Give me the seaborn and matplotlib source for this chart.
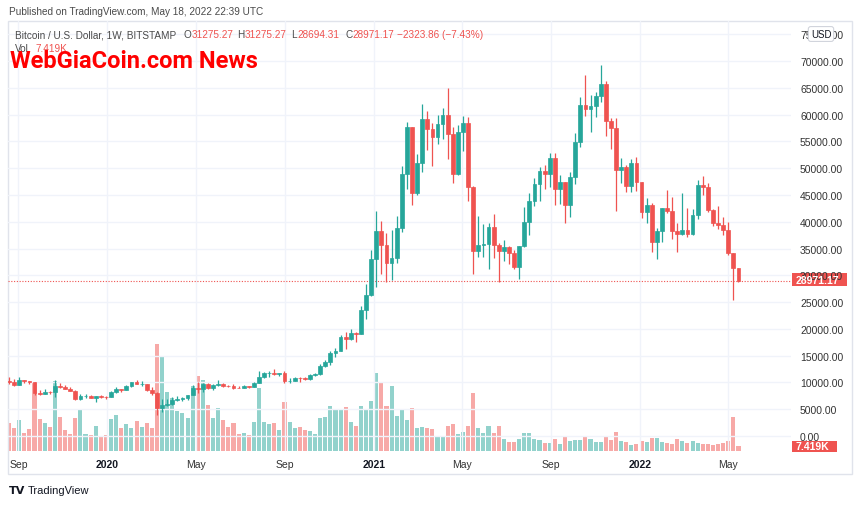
import pandas as pd
import numpy as np
import matplotlib
matplotlib.use("Agg")
import matplotlib.pyplot as plt
import matplotlib.dates as mdates
from matplotlib.patches import Rectangle
import seaborn as sns

# ---- data (weekly BTC/USD, Bitstamp) ----
week_start = "2019-08-19"

opens = [10350, 10150, 9600, 10400, 10300, 10050, 7950, 7850, 8250, 8150,
         9350, 9200, 8800, 8450, 6950, 7420, 7520, 7100, 7500, 7300,
         7250, 8180, 8700, 8600, 9380, 10150, 9650, 9700, 8550, 8000,
         5200, 5820, 5900, 6780, 6900, 7100, 7700, 8900, 8720, 9700,
         8900, 9450, 9680, 9350, 9300, 9000, 8990, 9250, 9170, 9930,
         11060, 11670, 11850, 11650, 11680, 10250, 10320, 10900, 10760, 10660,
         11370, 11500, 13030, 13770, 15480, 15960, 18400, 18180, 19200, 19100,
         23500, 26250, 33100, 38250, 35700, 32300, 33200, 38800, 48900, 57700,
         45300, 51000, 59100, 57400, 55900, 58300, 60000, 56300, 49000, 56750,
         58500, 46500, 34550, 35700, 35800, 39050, 35700, 34600, 35300, 34200,
         31600, 35400, 40000, 43900, 47100, 49500, 48900, 51850, 46100, 47400,
         43200, 48400, 54900, 61800, 61000, 61600, 63400, 65700, 58800, 57500,
         49600, 50300, 46650, 50900, 47400, 41900, 43200, 36300, 38200, 42500,
         42000, 38300, 37700, 38400, 37700, 41200, 46900, 46400, 42200, 39700,
         39400, 38500, 34100, 31275.27]
highs = [10950, 10630, 10930, 10450, 10350, 10060, 8500, 8700, 8420, 10370,
         9950, 9480, 9100, 8500, 7850, 7750, 7700, 7520, 7700, 7500,
         8450, 9200, 8800, 9600, 10150, 10500, 10250, 9700, 9180, 8180,
         6900, 6980, 7200, 7470, 7300, 7740, 9480, 10000, 9950, 9900,
         9800, 10400, 9980, 9600, 9800, 9300, 9450, 9270, 10000, 12100,
         11900, 12100, 12480, 11800, 12090, 10770, 11100, 10990, 10950, 11500,
         11720, 13350, 14100, 15950, 16480, 18800, 19480, 19900, 19420, 24300,
         28400, 34800, 42000, 40100, 37900, 38500, 41100, 50400, 58600, 57700,
         52600, 62000, 60700, 58400, 60000, 61300, 65000, 57700, 58000, 59750,
         59500, 46600, 41000, 39500, 39800, 41400, 36000, 36600, 35400, 34700,
         35500, 42700, 45300, 48100, 50200, 50500, 52900, 52800, 48800, 47400,
         49200, 56500, 63200, 67300, 63700, 64300, 69200, 66300, 59400, 59400,
         51900, 50500, 51700, 52000, 47500, 44400, 43500, 38900, 42600, 45900,
         44700, 39800, 45300, 42600, 42300, 47700, 48500, 47200, 42400, 42900,
         40800, 40000, 34200, 31275.27]
lows = [9800, 9350, 9580, 9900, 9620, 7730, 7720, 7800, 7900, 7300,
        8950, 8700, 8400, 6800, 6800, 7080, 7100, 6430, 7150, 6870,
        7250, 8100, 8250, 8550, 9150, 9650, 9300, 8450, 7630, 3850,
        4450, 5680, 5860, 6500, 6450, 6800, 7620, 8100, 8200, 8800,
        8650, 9250, 9200, 9100, 8830, 8900, 8950, 9000, 9120, 9900,
        10900, 11100, 11360, 11120, 9850, 9850, 10230, 10150, 10400, 10530,
        11200, 11400, 12950, 13200, 14800, 15800, 16200, 18000, 17600, 19000,
        21850, 26050, 27800, 30200, 28800, 29200, 32300, 38000, 46100, 43200,
        44900, 49300, 53400, 50400, 54600, 55400, 51800, 47200, 48700, 53200,
        43800, 30200, 33500, 33400, 31150, 33300, 28700, 32700, 32100, 31200,
        29300, 35200, 37500, 43000, 43900, 46100, 46500, 43100, 43400, 39700,
        40800, 47100, 54000, 59700, 56700, 59500, 62300, 56000, 53500, 42000,
        47300, 45500, 45600, 45700, 40700, 39700, 34300, 33000, 36300, 41700,
        36800, 34400, 37500, 37200, 37600, 40500, 44900, 41900, 39200, 38600,
        37600, 33700, 25400, 28694.31]
closes = [10150, 9600, 10400, 10300, 10050, 7950, 7850, 8250, 8150, 9350,
          9200, 8800, 8450, 6950, 7420, 7520, 7100, 7500, 7300, 7250,
          8180, 8700, 8600, 9380, 10150, 9750, 9700, 8550, 8000, 5200,
          5820, 5900, 6780, 6900, 7100, 7700, 8900, 8720, 9700, 8900,
          9450, 9680, 9350, 9300, 9000, 8990, 9250, 9170, 9930, 11060,
          11670, 11850, 11650, 11680, 10250, 10320, 10900, 10760, 10660, 11370,
          11500, 13030, 13770, 15480, 15960, 18400, 18180, 19150, 19100, 23500,
          26250, 33100, 38250, 35700, 32300, 33200, 38800, 48900, 57700, 45300,
          51000, 59100, 57400, 55900, 58300, 60000, 56300, 49000, 56750, 58500,
          46500, 34550, 35700, 35800, 39050, 35700, 34600, 35300, 34200, 31600,
          35400, 40000, 43900, 47100, 49500, 48900, 51850, 46100, 47400, 43200,
          48400, 54900, 61800, 61000, 61600, 63400, 65700, 58800, 57500, 49600,
          50300, 46650, 50900, 47400, 41900, 43200, 36300, 38200, 42500, 42000,
          38300, 37700, 38400, 37700, 41200, 46900, 46400, 42200, 39700, 39400,
          38500, 34100, 31300, 28971.17]
# weekly volume, thousands of BTC
volumes_k = [44.7, 36.8, 49.0, 28.4, 34.3, 107.9, 50.1, 44.7, 37.9, 110.6,
             54.2, 32.7, 26.4, 52.6, 65.9, 27.3, 25.8, 39.0, 23.2, 24.8,
             50.1, 56.4, 35.9, 42.2, 36.8, 47.4, 37.9, 44.7, 36.8, 168.6,
             150.1, 93.2, 84.2, 63.2, 59.6, 52.6, 102.7, 118.5, 112.2, 72.2,
             51.7, 67.5, 48.5, 37.9, 44.7, 27.3, 28.4, 24.8, 46.3, 100.0,
             46.3, 42.2, 43.8, 33.2, 77.4, 46.3, 36.8, 38.4, 33.2, 31.6,
             27.3, 51.7, 53.2, 71.6, 64.8, 64.8, 69.0, 46.3, 39.0, 71.6,
             65.9, 78.5, 123.7, 109.5, 71.6, 103.0, 55.8, 65.3, 49.0, 67.5,
             35.9, 38.4, 35.9, 34.3, 22.1, 23.2, 39.5, 42.2, 27.3, 30.0,
             39.5, 92.1, 36.8, 28.9, 39.5, 28.9, 39.5, 18.5, 14.2, 14.2,
             19.4, 28.0, 28.0, 19.4, 16.9, 13.1, 13.1, 19.4, 11.5, 22.1,
             15.8, 16.9, 16.9, 22.1, 18.5, 14.2, 14.2, 22.1, 16.9, 29.5,
             15.8, 14.2, 10.0, 11.5, 15.8, 14.2, 21.0, 21.0, 14.2, 13.1,
             11.5, 19.4, 15.8, 13.1, 15.8, 13.1, 11.5, 10.6, 9.0, 11.5,
             13.1, 15.8, 53.2, 7.419]

x_tick_dates = ["2019-09-01", "2020-01-01", "2020-05-01", "2020-09-01", "2021-01-01",
                "2021-05-01", "2021-09-01", "2022-01-01", "2022-05-01"]
x_tick_labels = ["Sep", "2020", "May", "Sep", "2021", "May", "Sep", "2022", "May"]
price_ticks = list(range(0, 75001, 5000))
last_close = 28971.17
last_volume_k = 7.419

UP = "#26a69a"
DOWN = "#ef5350"
UP_VOL = "#92d2cc"
DOWN_VOL = "#f7a9a7"
TXT = "#131722"
GREY = "#4a4a4a"

W, H = 860, 506


def fx(px):
    return px / W


def fy(py):
    return 1 - py / H


sns.set_theme(style="white")
plt.rcParams["font.family"] = ["Liberation Sans", "DejaVu Sans"]

df = pd.DataFrame({
    "date": pd.date_range(week_start, periods=len(closes), freq="7D"),
    "open": opens, "high": highs, "low": lows, "close": closes, "vol": volumes_k,
})
df["x"] = mdates.date2num(df["date"])
df["dir"] = np.where(df["close"] >= df["open"], "up", "down")

fig = plt.figure(figsize=(W / 100, H / 100), dpi=100)
fig.patch.set_facecolor("white")

# pane: x 8..791 px, y 22..452 px
ax = fig.add_axes([fx(8), fy(452), (791 - 8) / W, (452 - 22) / H])
axv = ax.twinx()

# volume bars, one call per direction
for d, col in (("up", UP_VOL), ("down", DOWN_VOL)):
    sns.barplot(data=df[df["dir"] == d], x="x", y="vol", color=col,
                native_scale=True, width=0.8, saturation=1, errorbar=None,
                linewidth=0, ax=axv)
axv.set_ylim(0, 430 * 1.58)
axv.set_yticks([])
axv.set_ylabel("")
axv.set_xlabel("")

ax.set_zorder(axv.get_zorder() + 1)
ax.patch.set_visible(False)

# candles
colors = np.where(df["dir"] == "up", UP, DOWN)
ax.vlines(df["x"], df["low"], df["high"], colors=colors, lw=0.9, zorder=2)
ax.bar(df["x"], (df["close"] - df["open"]).abs(), bottom=df[["open", "close"]].min(axis=1),
       width=5.2, color=colors, edgecolor=colors, linewidth=0.5, zorder=3)

# last price dotted line
ax.axhline(last_close, color=DOWN, lw=0.8, ls=(0, (1, 1.5)), zorder=1)

x0 = mdates.date2num(pd.Timestamp(week_start))
ax.set_xlim(x0 - 0.2 * 7, x0 + 153.3 * 7)
axv.set_xlim(x0 - 0.2 * 7, x0 + 153.3 * 7)
ax.set_ylim(-2800, 77470)

ax.set_yticks(price_ticks)
ax.set_yticklabels([f"{v:.2f}" for v in price_ticks])
ax.yaxis.tick_right()
ax.tick_params(axis="y", length=0, pad=6.5, labelsize=7.5, labelcolor="#333333")
ax.set_xticks(mdates.date2num(pd.to_datetime(x_tick_dates)))
ax.set_xticklabels(x_tick_labels)
ax.tick_params(axis="x", length=0, pad=6, labelsize=7.5, labelcolor="#333333")
for lbl in ax.get_xticklabels():
    if lbl.get_text().isdigit():
        lbl.set_fontweight("bold")
        lbl.set_color(TXT)
ax.grid(True, color="#f0f3fa", lw=1)
for a in (ax, axv):
    for s in a.spines.values():
        s.set_visible(False)

# outer frame
fig.add_artist(Rectangle((fx(8), fy(475)), (852 - 8) / W, (475 - 22) / H,
                         transform=fig.transFigure, fill=False, ec="#e0e3eb", lw=1))

# price scale boxes
fig.add_artist(Rectangle((fx(791.5), fy(287)), 55 / W, 13 / H, transform=fig.transFigure,
                         fc=DOWN, ec="none"))
fig.text(fx(796), fy(280.5), f"{last_close:.2f}", color="white", fontsize=7.5,
         fontweight="bold", va="center", ha="left")
fig.add_artist(Rectangle((fx(791.5), fy(453)), 45 / W, 11 / H, transform=fig.transFigure,
                         fc=DOWN, ec="none"))
fig.text(fx(796), fy(447.5), f"{last_volume_k:.3f}K", color="white", fontsize=7.5,
         fontweight="bold", va="center", ha="left")
fig.text(fx(821), fy(35), "USD", color=TXT, fontsize=7, ha="center", va="center",
         bbox=dict(boxstyle="round,pad=0.25", fc="white", ec="#d1d4dc", lw=0.8))

# header texts
fig.text(fx(9), fy(12), "Published on TradingView.com, May 18, 2022 22:39 UTC",
         color=GREY, fontsize=7.2, va="center", ha="left")
fig.text(fx(15), fy(35), "Bitcoin / U.S. Dollar, 1W, BITSTAMP", color=GREY,
         fontsize=7.2, va="center", ha="left")

renderer = fig.canvas.get_renderer()
legend_items = [(183, "O", "31275.27"), (237, "H", "31275.27"),
                (291, "L", "28694.31"), (345, "C", "28971.17")]
for px, letter, value in legend_items:
    t = fig.text(fx(px), fy(35), letter, color=GREY, fontsize=7.2, va="center", ha="left")
    x_end = t.get_window_extent(renderer).x1
    fig.text((x_end + 0.5) / W, fy(35), value, color=DOWN, fontsize=7.2,
             va="center", ha="left")
fig.text(fx(397), fy(35), "\u22122323.86 (\u22127.43%)", color=DOWN, fontsize=7.2,
         va="center", ha="left")
fig.text(fx(15), fy(49), "Vol", color=GREY, fontsize=7.2, va="center", ha="left")
fig.text(fx(36), fy(49), "7.419K", color=DOWN, fontsize=7.2, va="center", ha="left")

# watermark
fig.text(fx(10), fy(62), "WebGiaCoin.com News", color="#ff0000", fontsize=17,
         fontweight="bold", family=["Roboto", "DejaVu Sans"], va="center", ha="left")

# footer logo
fig.text(fx(9), fy(491), "TV", color=TXT, fontsize=8, fontweight="heavy",
         va="center", ha="left", family=["DejaVu Sans"])
fig.text(fx(28), fy(491), "TradingView", color=TXT, fontsize=8, va="center", ha="left")

fig.savefig("out.png", dpi=100)
